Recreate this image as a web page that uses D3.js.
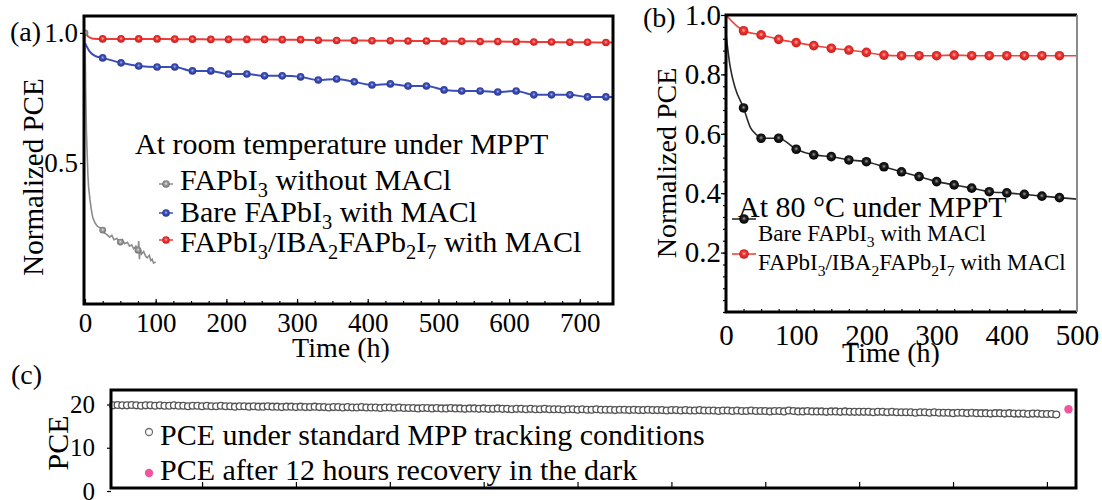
<!DOCTYPE html>
<html>
<head>
<meta charset="utf-8">
<script src="https://cdn.jsdelivr.net/npm/d3@7"></script>
<style>
  body { margin: 0; background: #fff; }
  svg { display: block; font-family: "Liberation Serif", "Times New Roman", serif; }
  text { white-space: pre; }
</style>
</head>
<body>
<svg id="fig" width="1102" height="500"></svg>
<script>
// ---- panel (a): room temperature, MPPT ----
const aTicksX = [0, 100, 200, 300, 400, 500, 600, 700];
const aTicksY = [0.5, 1.0];
const aMarkHours = [25, 51, 76, 102, 127, 152, 178, 203, 229, 254, 279, 305, 330, 356, 381,
                    406, 432, 457, 483, 508, 533, 559, 584, 610, 635, 660, 686, 711, 737];
const aBare = [0.904, 0.885, 0.873, 0.869, 0.869, 0.854, 0.854, 0.842, 0.842, 0.835, 0.835,
               0.831, 0.819, 0.823, 0.812, 0.800, 0.804, 0.796, 0.796, 0.781, 0.777, 0.777,
               0.773, 0.777, 0.762, 0.762, 0.762, 0.754, 0.754];
const aIba = [0.977, 0.977, 0.977, 0.977, 0.976, 0.976, 0.975, 0.975, 0.975, 0.975, 0.974,
              0.974, 0.972, 0.971, 0.971, 0.970, 0.970, 0.969, 0.969, 0.968, 0.968, 0.967,
              0.967, 0.966, 0.965, 0.965, 0.964, 0.964, 0.963];
const aBareHead = [[0, 0.962], [3, 0.945], [7, 0.927], [14, 0.912]];
const aBareTail = [[747, 0.754]];
const aIbaHead = [[0, 1.0], [5, 0.985], [12, 0.978]];
const aIbaTail = [[747, 0.963]];
const aNoMaclHours = [0, 1, 2, 3, 4, 5, 7, 9, 11, 14, 18, 22, 25, 28, 31, 35, 38, 41, 45, 48, 50,
                      53, 56, 60, 63, 66, 69, 72, 75, 76, 77, 78, 80, 83, 86, 88, 91, 93, 95, 97, 100];
const aNoMacl = [1.0, 0.78, 0.62, 0.54, 0.46, 0.41, 0.36, 0.32, 0.29, 0.27, 0.255, 0.25, 0.242,
                 0.23, 0.225, 0.215, 0.222, 0.205, 0.21, 0.2, 0.196, 0.205, 0.19, 0.195, 0.18,
                 0.185, 0.17, 0.18, 0.165, 0.2, 0.13, 0.17, 0.15, 0.16, 0.14, 0.135, 0.145,
                 0.125, 0.13, 0.115, 0.12];
const aNoMaclMarks = [0, 25, 50, 75];

// ---- panel (b): 80 °C, MPPT ----
const bTicksX = [0, 100, 200, 300, 400, 500];
const bTicksY = [0.2, 0.4, 0.6, 0.8, 1.0];
const bMarkHours = [25, 50, 75, 100, 125, 150, 175, 200, 225, 250, 275, 300, 325, 350, 375,
                    400, 425, 450, 475];
const bBare = [0.687, 0.585, 0.585, 0.548, 0.529, 0.523, 0.512, 0.506, 0.489, 0.472, 0.456,
               0.439, 0.428, 0.417, 0.405, 0.401, 0.396, 0.390, 0.385];
const bIba = [0.947, 0.933, 0.918, 0.907, 0.897, 0.888, 0.882, 0.874, 0.865, 0.863, 0.863,
              0.863, 0.865, 0.863, 0.863, 0.863, 0.863, 0.863, 0.863];
const bBareExtra = [[0, 0.935], [6, 0.825], [13, 0.755], [35, 0.62], [44, 0.596], [500, 0.38]];
const bIbaExtra = [[0, 1.0], [500, 0.863]];

// ---- panel (c): PCE under MPP tracking ----
const cTicksY = [0, 10, 20];
const cTicksX = [100, 200, 300, 400, 500, 600, 700, 800, 900, 1000];
const cStepHours = 5;
const cPce = [
  19.8, 19.9, 19.8, 19.8, 19.9, 19.8, 19.7, 19.8, 19.8, 19.7, 19.8, 19.7, 19.7, 19.8, 19.7, 19.7, 19.6, 19.7, 19.7, 19.6,
  19.7, 19.6, 19.6, 19.7, 19.6, 19.6, 19.5, 19.6, 19.6, 19.5, 19.6, 19.5, 19.5, 19.6, 19.5, 19.5, 19.4, 19.5, 19.5, 19.4,
  19.5, 19.4, 19.4, 19.5, 19.4, 19.4, 19.3, 19.4, 19.4, 19.3, 19.4, 19.3, 19.3, 19.4, 19.3, 19.3, 19.3, 19.2, 19.3, 19.3,
  19.2, 19.3, 19.2, 19.2, 19.2, 19.1, 19.2, 19.2, 19.1, 19.2, 19.1, 19.1, 19.2, 19.1, 19.1, 19.0, 19.1, 19.1, 19.0, 19.1,
  19.0, 19.0, 19.1, 19.0, 19.0, 18.9, 19.0, 19.0, 18.9, 19.0, 18.9, 18.9, 19.0, 18.9, 18.9, 18.9, 18.8, 18.9, 18.9, 18.8,
  18.9, 18.8, 18.8, 18.9, 18.8, 18.8, 18.8, 18.7, 18.8, 18.8, 18.7, 18.8, 18.7, 18.7, 18.8, 18.7, 18.7, 18.7, 18.6, 18.7,
  18.7, 18.6, 18.7, 18.6, 18.6, 18.7, 18.6, 18.6, 18.6, 18.5, 18.6, 18.6, 18.5, 18.6, 18.5, 18.5, 18.6, 18.5, 18.5, 18.5,
  18.4, 18.5, 18.5, 18.4, 18.6, 18.5, 18.4, 18.4, 18.5, 18.4, 18.4, 18.4, 18.3, 18.4, 18.4, 18.3, 18.4, 18.3, 18.3, 18.3,
  18.3, 18.3, 18.2, 18.3, 18.3, 18.2, 18.3, 18.2, 18.2, 18.2, 18.2, 18.1, 18.2, 18.2, 18.1, 18.2, 18.1, 18.1, 18.1, 18.0,
  18.1, 18.1, 18.0, 18.1, 18.0, 18.0, 18.0, 17.9, 18.0, 18.0, 17.9, 18.0, 17.9, 17.9, 17.9, 17.8, 17.9, 17.9, 17.8, 17.8,
  17.8, 17.7
];
const cRecovery = [[1023, 18.9]];

const svg = d3.select("#fig");
const defs = svg.append("defs");

function ball(id, light, base, dark) {
  const g = defs.append("radialGradient").attr("id", id)
    .attr("cx", "50%").attr("cy", "45%").attr("r", "55%");
  g.append("stop").attr("offset", "0%").attr("stop-color", light);
  g.append("stop").attr("offset", "40%").attr("stop-color", base);
  g.append("stop").attr("offset", "100%").attr("stop-color", dark);
}
ball("gRed", "#ffb3ad", "#ee3431", "#c21e1c");
ball("gBlue", "#aab6f2", "#3d4fb9", "#28358c");
ball("gGray", "#e6e6e6", "#9a9a9a", "#6e6e6e");
ball("gBlack", "#9a9a9a", "#1e1e1e", "#000");

function clip(id, x, y, w, h) {
  defs.append("clipPath").attr("id", id).append("rect")
    .attr("x", x).attr("y", y).attr("width", w).attr("height", h);
}

function addRich(text, parts, size) {
  let down = 0;
  parts.forEach(p => {
    const isSub = Array.isArray(p);
    const want = isSub ? size * 0.24 : 0;
    text.append("tspan")
      .attr("dy", want - down)
      .attr("font-size", isSub ? size * 0.68 : size)
      .text(isSub ? p[0] : p);
    down = want;
  });
}

function styleAxis(g, size) {
  g.select(".domain").remove();
  g.selectAll("line").attr("stroke", "#000").attr("stroke-width", 1.2);
  g.selectAll("text").attr("font-family", "Liberation Serif").attr("font-size", size).attr("fill", "#000");
}

const fmt1 = d3.format(".1f");

// ================= panel (a) =================
const ax = d3.scaleLinear().domain([0, 747]).range([85, 613]);
const ay = d3.scaleLinear().domain([-0.042, 1.065]).range([304, 16]);
clip("clipA", 84, 16, 529, 288);
clip("clipTop", 0, 0, 1102, 365);

const pa = svg.append("g").attr("clip-path", "url(#clipTop)");

pa.append("g").attr("transform", "translate(0,304)")
  .call(d3.axisBottom(ax).tickValues(d3.range(25, 747, 25)).tickSize(-3).tickFormat(""))
  .call(g => styleAxis(g, 27));
pa.append("g").attr("transform", "translate(0,304)")
  .call(d3.axisBottom(ax).tickValues(aTicksX).tickSize(-5).tickPadding(9))
  .call(g => styleAxis(g, 27));
pa.append("g").attr("transform", "translate(84,0)")
  .call(d3.axisLeft(ay).tickValues(aTicksY).tickSize(4).tickPadding(2).tickFormat(fmt1))
  .call(g => styleAxis(g, 27));

const aLine = d3.line().x(d => ax(d[0])).y(d => ay(d[1])).curve(d3.curveMonotoneX);
const aData = pa.append("g").attr("clip-path", "url(#clipA)");

const aNoMaclPts = aNoMaclHours.map((h, i) => [h, aNoMacl[i]]);
aData.append("path").attr("d", d3.line().x(d => ax(d[0])).y(d => ay(d[1]))(aNoMaclPts))
  .attr("fill", "none").attr("stroke", "#8c8c8c").attr("stroke-width", 1.6);

const aBarePts = aBareHead.concat(aMarkHours.map((h, i) => [h, aBare[i]]), aBareTail);
aData.append("path").attr("d", aLine(aBarePts))
  .attr("fill", "none").attr("stroke", "#3b4db6").attr("stroke-width", 2);

const aIbaPts = aIbaHead.concat(aMarkHours.map((h, i) => [h, aIba[i]]), aIbaTail);
aData.append("path").attr("d", aLine(aIbaPts))
  .attr("fill", "none").attr("stroke", "#ef3b38").attr("stroke-width", 2);

aData.append("g").selectAll("circle")
  .data(aNoMaclMarks.map(h => [h, aNoMacl[aNoMaclHours.indexOf(h)]]))
  .join("circle")
  .attr("cx", d => ax(d[0])).attr("cy", d => ay(d[1])).attr("r", 3.4)
  .attr("fill", "url(#gGray)");
aData.append("g").selectAll("circle")
  .data(aMarkHours.map((h, i) => [h, aBare[i]]))
  .join("circle")
  .attr("cx", d => ax(d[0])).attr("cy", d => ay(d[1])).attr("r", 3.8)
  .attr("fill", "url(#gBlue)");
aData.append("g").selectAll("circle")
  .data(aMarkHours.map((h, i) => [h, aIba[i]]))
  .join("circle")
  .attr("cx", d => ax(d[0])).attr("cy", d => ay(d[1])).attr("r", 3.8)
  .attr("fill", "url(#gRed)");

pa.append("rect").attr("x", 84).attr("y", 16).attr("width", 529).attr("height", 288)
  .attr("fill", "none").attr("stroke", "#000").attr("stroke-width", 3);

pa.append("text").attr("x", 10).attr("y", 41).attr("font-size", 28).text("(a)");
pa.append("text").attr("transform", "translate(33,177) rotate(-90)")
  .attr("text-anchor", "middle").attr("dominant-baseline", "central")
  .attr("font-size", 29).text("Normalized PCE");
pa.append("text").attr("x", 341).attr("y", 357).attr("text-anchor", "middle")
  .attr("font-size", 28).text("Time (h)");

// legend (a)
pa.append("text").attr("x", 135).attr("y", 154).attr("font-size", 30)
  .text("At room temperature under MPPT");
const aLegend = [
  { parts: ["FAPbI", ["3"], " without MACl"], fill: "url(#gGray)", stroke: "#8c8c8c", y: 190, my: 184 },
  { parts: ["Bare FAPbI", ["3"], " with MACl"], fill: "url(#gBlue)", stroke: "#3b4db6", y: 222, my: 213 },
  { parts: ["FAPbI", ["3"], "/IBA", ["2"], "FAPb", ["2"], "I", ["7"], " with MACl"], fill: "url(#gRed)", stroke: "#ef3b38", y: 252, my: 240 }
];
aLegend.forEach(l => {
  pa.append("line").attr("x1", 159).attr("x2", 173).attr("y1", l.my).attr("y2", l.my)
    .attr("stroke", l.stroke).attr("stroke-width", 1.5);
  pa.append("circle").attr("cx", 166).attr("cy", l.my).attr("r", 3.8).attr("fill", l.fill);
  addRich(pa.append("text").attr("x", 180).attr("y", l.y), l.parts, 30);
});

// ================= panel (b) =================
const bx = d3.scaleLinear().domain([0, 500]).range([726, 1077]);
const by = d3.scaleLinear().domain([0, 1]).range([312, 15]);
clip("clipB", 726, 15, 351, 297);
clip("clipTopB", 620, 0, 482, 367);

const pb = svg.append("g").attr("clip-path", "url(#clipTopB)");

pb.append("g").attr("transform", "translate(0,312)")
  .call(d3.axisBottom(bx).tickValues(d3.range(25, 500, 25)).tickSize(-3).tickFormat(""))
  .call(g => styleAxis(g, 29));
pb.append("g").attr("transform", "translate(0,312)")
  .call(d3.axisBottom(bx).tickValues(bTicksX).tickSize(0).tickPadding(12))
  .call(g => styleAxis(g, 29));
pb.append("g").attr("transform", "translate(726,0)")
  .call(d3.axisLeft(by).tickValues(d3.range(0, 1.0, 0.04)).tickSize(3).tickFormat(""))
  .call(g => styleAxis(g, 29));
pb.append("g").attr("transform", "translate(726,0)")
  .call(d3.axisLeft(by).tickValues(bTicksY).tickSize(5).tickPadding(0).tickFormat(fmt1))
  .call(g => styleAxis(g, 29));

const bLine = d3.line().x(d => bx(d[0])).y(d => by(d[1])).curve(d3.curveMonotoneX);
const bData = pb.append("g").attr("clip-path", "url(#clipB)");
const byHour = (a, b) => a[0] - b[0];

const bBarePts = bBareExtra.concat(bMarkHours.map((h, i) => [h, bBare[i]])).sort(byHour);
bData.append("path").attr("d", bLine(bBarePts))
  .attr("fill", "none").attr("stroke", "#2a2a2a").attr("stroke-width", 1.6);
const bIbaPts = bIbaExtra.concat(bMarkHours.map((h, i) => [h, bIba[i]])).sort(byHour);
bData.append("path").attr("d", bLine(bIbaPts))
  .attr("fill", "none").attr("stroke", "#f0443f").attr("stroke-width", 1.6);

bData.append("g").selectAll("circle")
  .data(bMarkHours.map((h, i) => [h, bBare[i]]))
  .join("circle")
  .attr("cx", d => bx(d[0])).attr("cy", d => by(d[1])).attr("r", 4.8)
  .attr("fill", "url(#gBlack)");
bData.append("g").selectAll("circle")
  .data(bMarkHours.map((h, i) => [h, bIba[i]]))
  .join("circle")
  .attr("cx", d => bx(d[0])).attr("cy", d => by(d[1])).attr("r", 4.8)
  .attr("fill", "url(#gRed)");

// frame (b): right side lighter
pb.append("path").attr("d", "M1077,15H726V312H1077")
  .attr("fill", "none").attr("stroke", "#000").attr("stroke-width", 3);
pb.append("line").attr("x1", 1077).attr("x2", 1077).attr("y1", 15).attr("y2", 312)
  .attr("stroke", "#8a8a8a").attr("stroke-width", 2);

pb.append("text").attr("x", 643).attr("y", 27).attr("font-size", 28).text("(b)");
pb.append("text").attr("transform", "translate(666,163) rotate(-90)")
  .attr("text-anchor", "middle").attr("dominant-baseline", "central")
  .attr("font-size", 28).text("Normalized PCE");
pb.append("text").attr("x", 891).attr("y", 362).attr("text-anchor", "middle")
  .attr("font-size", 28).text("Time (h)");

pb.append("text").attr("x", 738).attr("y", 217).attr("font-size", 30)
  .text("At 80 \u00B0C under MPPT");
const bLegend = [
  { parts: ["Bare FAPbI", ["3"], " with MACl"], fill: "url(#gBlack)", stroke: "#2a2a2a", y: 241, my: 219 },
  { parts: ["FAPbI", ["3"], "/IBA", ["2"], "FAPb", ["2"], "I", ["7"], " with MACl"], fill: "url(#gRed)", stroke: "#f0443f", y: 270, my: 254 }
];
bLegend.forEach(l => {
  pb.append("line").attr("x1", 732).attr("x2", 756).attr("y1", l.my).attr("y2", l.my)
    .attr("stroke", l.stroke).attr("stroke-width", 1.6);
  pb.append("circle").attr("cx", 744).attr("cy", l.my).attr("r", 4.8).attr("fill", l.fill);
  addRich(pb.append("text").attr("x", 758).attr("y", l.y), l.parts, 23);
});

// ================= panel (c) =================
const cx = d3.scaleLinear().domain([3, 1031]).range([111, 1076]);
const cy = d3.scaleLinear().domain([0, 20]).range([491, 404.5]);
const pc = svg.append("g");

pc.append("g").attr("transform", "translate(0,488)")
  .call(d3.axisBottom(cx).tickValues(cTicksX).tickSize(-6).tickFormat(""))
  .call(g => styleAxis(g, 25));
pc.append("g").attr("transform", "translate(111,0)")
  .call(d3.axisLeft(cy).tickValues(cTicksY).tickSize(4).tickPadding(12))
  .call(g => styleAxis(g, 25));

const cPts = cPce.map((v, i) => [cStepHours * (i + 1), v]);
pc.append("g").selectAll("circle")
  .data(cPts)
  .join("circle")
  .attr("cx", d => cx(d[0])).attr("cy", d => cy(d[1])).attr("r", 3.4)
  .attr("fill", "#fff").attr("stroke", "#555").attr("stroke-width", 1.3);
pc.append("g").selectAll("circle")
  .data(cRecovery)
  .join("circle")
  .attr("cx", d => cx(d[0])).attr("cy", d => cy(d[1])).attr("r", 4.2)
  .attr("fill", "#f0559e");

pc.append("rect").attr("x", 111).attr("y", 390).attr("width", 965).attr("height", 98)
  .attr("fill", "none").attr("stroke", "#000").attr("stroke-width", 3);

pc.append("text").attr("x", 11).attr("y", 384).attr("font-size", 28).text("(c)");
pc.append("text").attr("transform", "translate(57,443) rotate(-90)")
  .attr("text-anchor", "middle").attr("dominant-baseline", "central")
  .attr("font-size", 30).text("PCE");

pc.append("circle").attr("cx", 149).attr("cy", 432).attr("r", 3.5)
  .attr("fill", "#fff").attr("stroke", "#6f6f6f").attr("stroke-width", 1.3);
pc.append("text").attr("x", 160).attr("y", 445).attr("font-size", 30)
  .text("PCE under standard MPP tracking conditions");
pc.append("circle").attr("cx", 149).attr("cy", 473).attr("r", 4.2).attr("fill", "#f0559e");
pc.append("text").attr("x", 160).attr("y", 480).attr("font-size", 30)
  .text("PCE after 12 hours recovery in the dark");
</script>
</body>
</html>
